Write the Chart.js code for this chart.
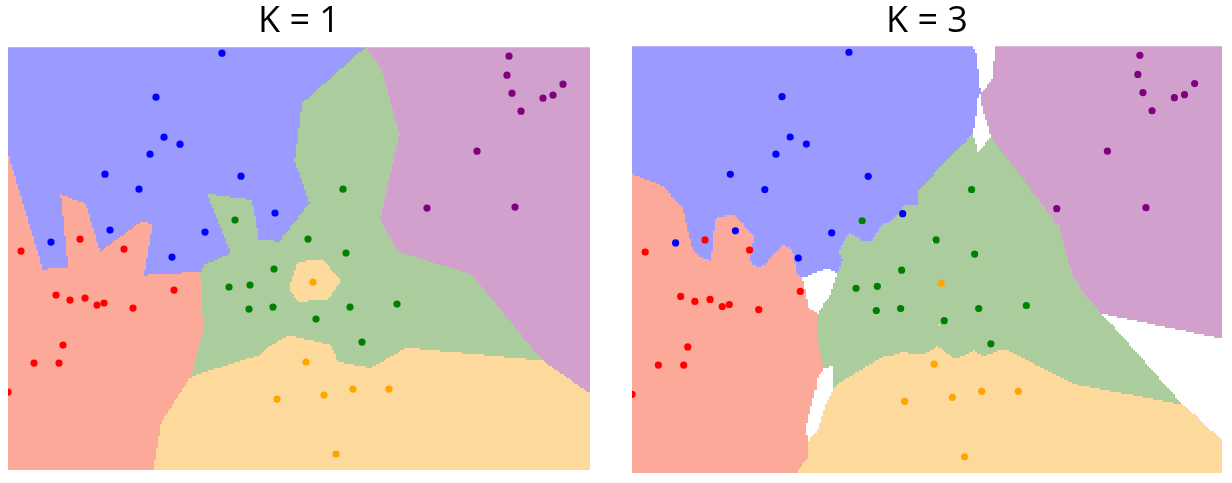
<!DOCTYPE html>
<html>
<head>
<meta charset="utf-8">
<script src="https://cdn.jsdelivr.net/npm/chart.js@4/dist/chart.umd.min.js"></script>
<style>
  html, body { margin: 0; padding: 0; background: #fff; }
  .box { position: absolute; top: 0; }
  #left { left: 8px; width: 582px; height: 470px; }
  #right { left: 632px; width: 590px; height: 473px; }
</style>
</head>
<body>
<div class="box" id="left"><canvas id="k1Chart"></canvas></div>
<div class="box" id="right"><canvas id="k3Chart"></canvas></div>
<script>
// class names, in the order the datasets are drawn
var classes = ['blue', 'red', 'green', 'orange', 'purple'];

// sample points per class, [x, y]
var bluePts = [[2.14, 4.17], [1.48, 3.73], [1.56, 3.33], [1.72, 3.26], [1.42, 3.16], [0.97, 2.96],
    [1.31, 2.81], [2.33, 2.94], [2.67, 2.57], [1.97, 2.38], [1.02, 2.40], [0.43, 2.28], [1.64, 2.13]];
var redPts = [[0.13, 2.19], [0.72, 2.31], [1.16, 2.21], [0.48, 1.75], [0.62, 1.70], [0.77, 1.72],
    [0.89, 1.65], [0.96, 1.67], [1.25, 1.62], [1.66, 1.80], [0.55, 1.25], [0.26, 1.07], [0.51, 1.07], [0.00, 0.78]];
var greenPts = [[2.27, 2.50], [3.00, 2.31], [3.35, 2.81], [3.38, 2.17], [2.66, 2.01], [2.21, 1.83],
    [2.42, 1.85], [2.41, 1.61], [2.65, 1.63], [3.42, 1.63], [3.89, 1.66], [3.08, 1.51], [3.54, 1.28]];
var orangePts = [[3.05, 1.88], [2.98, 1.08], [2.69, 0.71], [3.16, 0.75], [3.45, 0.81], [3.81, 0.81], [3.28, 0.16]];
var purplePts = [[5.01, 4.14], [4.99, 3.95], [5.04, 3.77], [5.35, 3.72], [5.45, 3.75], [5.55, 3.86],
    [5.13, 3.59], [4.69, 3.19], [4.19, 2.62], [5.07, 2.63]];

var pointColors = ['#0000ff', '#ff0000', '#008000', '#ffa500', '#800080'];
var regionColors = ['#9b9bff', '#fca99a', '#abcd9d', '#fdd99b', '#d2a0cd'];

var xRange = [0, 5.82];
var yRange = [0, 4.23];

// paints the k-nearest-neighbour class of every grid cell behind the points
var knnRegions = {
    id: 'knnRegions',
    beforeDatasetsDraw: function (chart, args, opts) {
        var ctx = chart.ctx, xs = chart.scales.x, ys = chart.scales.y, area = chart.chartArea;
        var pts = [];
        chart.data.datasets.forEach(function (ds, i) {
            ds.data.forEach(function (p) { pts.push({ x: p.x, y: p.y, c: i }); });
        });
        var k = opts.k, step = opts.step;
        ctx.save();
        ctx.beginPath();
        ctx.rect(area.left, area.top, area.right - area.left, area.bottom - area.top);
        ctx.clip();
        for (var gx = xs.min; gx < xs.max; gx += step) {
            var x0 = Math.round(xs.getPixelForValue(gx));
            var x1 = Math.round(xs.getPixelForValue(gx + step));
            for (var gy = ys.min; gy < ys.max; gy += step) {
                var cx = gx + step / 2, cy = gy + step / 2;
                var d = pts.map(function (p) {
                    return { d: (p.x - cx) * (p.x - cx) + (p.y - cy) * (p.y - cy), c: p.c };
                });
                d.sort(function (a, b) { return a.d - b.d; });
                var votes = [0, 0, 0, 0, 0];
                for (var n = 0; n < k; n++) votes[d[n].c]++;
                var best = -1, bestV = 0, tie = false;
                votes.forEach(function (v, i) {
                    if (v > bestV) { bestV = v; best = i; tie = false; }
                    else if (v === bestV && v > 0) tie = true;
                });
                if (tie || best < 0) continue;
                var y0 = Math.round(ys.getPixelForValue(gy + step));
                var y1 = Math.round(ys.getPixelForValue(gy));
                ctx.fillStyle = regionColors[best];
                ctx.fillRect(x0, y0, x1 - x0, y1 - y0);
            }
        }
        ctx.restore();
    }
};

function toXY(list) {
    return list.map(function (p) { return { x: p[0], y: p[1] }; });
}

function makeChart(id, title, k, titleBottom) {
    var lists = [bluePts, redPts, greenPts, orangePts, purplePts];
    return new Chart(document.getElementById(id), {
        type: 'scatter',
        data: {
            datasets: lists.map(function (l, i) {
                return {
                    label: classes[i],
                    data: toXY(l),
                    backgroundColor: pointColors[i],
                    borderWidth: 0,
                    pointRadius: 3.6
                };
            })
        },
        options: {
            responsive: true,
            maintainAspectRatio: false,
            animation: false,
            layout: { padding: 0, autoPadding: false },
            scales: {
                x: { display: false, min: xRange[0], max: xRange[1] },
                y: { display: false, min: yRange[0], max: yRange[1] }
            },
            plugins: {
                legend: { display: false },
                tooltip: { enabled: false },
                title: {
                    display: true,
                    text: title,
                    color: '#000',
                    font: { family: 'Open Sans', size: 36, weight: 'normal', lineHeight: 1.2 },
                    padding: { top: 0, bottom: titleBottom }
                },
                knnRegions: { k: k, step: 0.02 }
            }
        },
        plugins: [knnRegions]
    });
}

makeChart('k1Chart', 'K = 1', 1, 4);
makeChart('k3Chart', 'K = 3', 3, 3);
</script>
</body>
</html>
